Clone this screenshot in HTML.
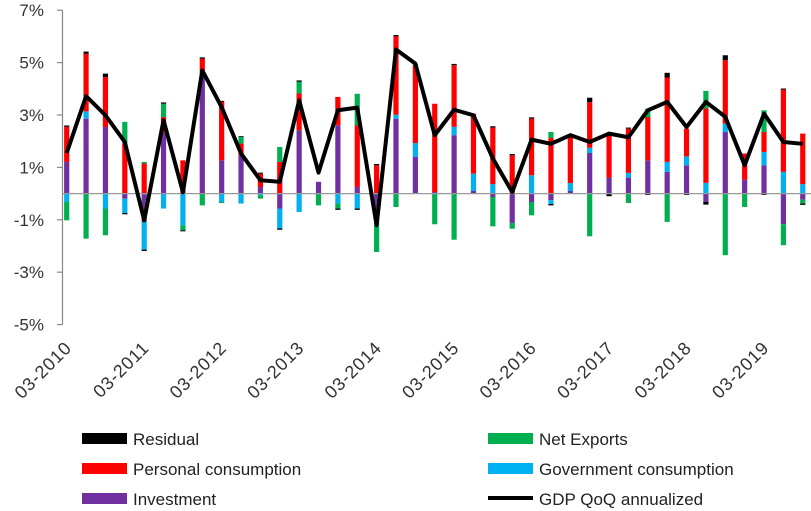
<!DOCTYPE html>
<html><head><meta charset="utf-8"><style>
html,body{margin:0;padding:0;background:#fff;}
svg{display:block;font-family:"Liberation Sans",sans-serif;}
</style></head><body>
<svg id="chart" width="811" height="511" viewBox="0 0 811 511">
<g id="yaxis"></g>
<g id="bars"></g>
<g id="line"></g>
<g id="xaxis"></g>
<g id="legend" font-size="17" fill="#222">
  <g><rect x="82" y="433" width="45" height="11" fill="#000"/><text x="133" y="445">Residual</text></g>
  <g><rect x="82" y="463" width="45" height="11" fill="#ff0000"/><text x="133" y="475">Personal consumption</text></g>
  <g><rect x="82" y="493" width="45" height="11" fill="#7030a0"/><text x="133" y="505">Investment</text></g>
  <g><rect x="488" y="433" width="45" height="11" fill="#00b050"/><text x="539" y="445">Net Exports</text></g>
  <g><rect x="488" y="463" width="45" height="11" fill="#00b0f0"/><text x="539" y="475">Government consumption</text></g>
  <g><rect x="488" y="496" width="45" height="4" fill="#000"/><text x="539" y="505">GDP QoQ annualized</text></g>
</g>
</svg>
<script>
const yTicks = [7,5,3,1,-1,-3,-5];
const xLabels = ["03-2010","03-2011","03-2012","03-2013","03-2014","03-2015","03-2016","03-2017","03-2018","03-2019"];
const investment = [1.21,2.86,2.54,-0.19,-1.08,2.35,0,4.64,1.27,1.46,0.25,-0.57,2.42,0.45,2.61,0.25,-0.76,2.86,1.4,0.06,2.23,0.1,-0.13,-1.12,-0.32,-0.25,0.1,1.55,0.61,0.61,1.27,0.83,1.08,-0.32,2.35,0.53,1.08,-1.17,-0.23];
const government = [-0.32,0.28,-0.57,-0.55,-1.06,-0.57,-1.21,0,-0.32,-0.38,-0.06,-0.76,-0.7,0,-0.38,-0.57,-0.45,0.15,0.53,0,0.32,0.66,0.36,0,0.7,-0.15,0.3,0.2,0,0.18,0,0.38,0.34,0.41,0.32,0,0.51,0.83,0.36];
const personal = [1.34,2.2,1.91,1.91,1.15,0.57,1.27,0.51,2.23,0.45,0.51,1.21,1.4,0,1.08,2.35,1.08,2.99,2.96,3.37,2.35,2.29,2.16,1.46,2.16,2.12,1.82,1.74,1.62,1.69,1.65,3.22,1.06,2.84,2.42,1.0,0.76,3.14,1.93];
const netExports = [-0.7,-1.72,-1.02,0.83,0.06,0.51,-0.19,-0.45,-0.04,0.25,-0.13,0.57,0.45,-0.45,-0.19,1.21,-1.02,-0.51,0.06,-1.17,-1.76,0,-1.12,-0.22,-0.51,0.23,0,-1.63,0,-0.36,0.32,-1.08,0,0.67,-2.35,-0.51,0.83,-0.8,-0.15];
const residual = [0.05,0.08,0.13,-0.05,-0.05,0.05,-0.04,0.05,0.04,0.03,0.04,-0.05,0.05,0,-0.05,-0.05,0.05,0.05,0,0,0.05,0,0.05,0.05,0.05,-0.05,0,0.17,-0.1,0.04,-0.05,0.18,-0.05,-0.1,0.19,0,-0.05,0.04,-0.05];
const gdp = [1.55,3.72,2.99,1.97,-1.02,2.8,0.05,4.7,3.3,1.53,0.51,0.45,3.56,0.8,3.18,3.28,-1.21,5.5,4.96,2.23,3.2,2.99,1.34,0.06,2.06,1.9,2.23,1.97,2.29,2.15,3.18,3.5,2.54,3.5,2.93,1.08,3.05,1.97,1.9];

const NS="http://www.w3.org/2000/svg";
const X0=66.7, DX=19.37, Y0=193.6, KY=26.2;
function xs(i){return X0+i*DX;}
function ys(v){return Y0-v*KY;}
function mk(tag,attrs,parent){const e=document.createElementNS(NS,tag);for(const k in attrs)e.setAttribute(k,attrs[k]);parent.appendChild(e);return e;}

const yax=document.getElementById('yaxis');
const axl=mk('line',{x1:62.5,y1:ys(7),x2:62.5,y2:ys(-5),stroke:'#888','stroke-width':1.2},yax);


yTicks.forEach(t=>{
  const tk=mk('line',{x1:57,y1:ys(t),x2:62.5,y2:ys(t),stroke:'#888','stroke-width':1.2},yax);
  
  
  const tx=mk('text',{x:44,y:ys(t)+6,'text-anchor':'end','font-size':17,fill:'#333'},yax);
  tx.textContent=t+'%';
  
  
});

const bars=document.getElementById('bars');
const series=[[investment,'#7030a0','investment'],[government,'#00b0f0','government'],[personal,'#ff0000','personal'],[netExports,'#00b050','net-exports'],[residual,'#000','residual']];
for(let i=0;i<gdp.length;i++){
  let pos=0,neg=0;
  series.forEach(s=>{
    const v=s[0][i]; if(!v) return;
    let a,b;
    if(v>0){a=pos;b=pos+v;pos=b;}else{a=neg;b=neg+v;neg=b;}
    const y1=ys(Math.max(a,b)),y2=ys(Math.min(a,b));
    const r=mk('rect',{x:xs(i)-2.6,y:y1,width:5.2,height:Math.max(0.6,y2-y1),fill:s[1]},bars);
    
    
  });
}
const zl=mk('line',{x1:62.5,y1:Y0,x2:811,y2:Y0,stroke:'#999','stroke-width':1.2},bars);



const lg=document.getElementById('line');
const pl=mk('polyline',{points:gdp.map((v,i)=>xs(i)+','+ys(v)).join(' '),fill:'none',stroke:'#000','stroke-width':4,'stroke-linejoin':'round'},lg);



const xax=document.getElementById('xaxis');
xLabels.forEach((l,k)=>{
  const x=xs(k*4)+6, y=349;
  const t=mk('text',{x:x,y:y,'text-anchor':'end','font-size':18,'letter-spacing':0.8,fill:'#333',transform:'rotate(-45 '+x+' '+y+')'},xax);
  t.textContent=l;
  
  
});
</script>
</body></html>
